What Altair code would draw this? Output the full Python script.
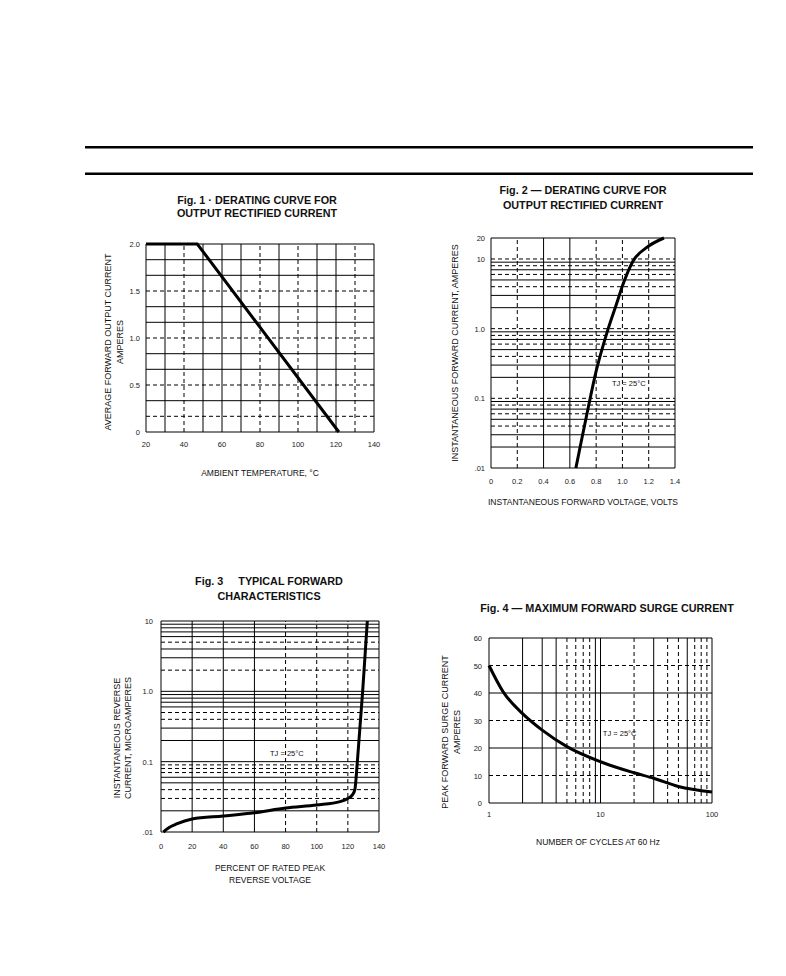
import altair as alt
import pandas as pd

FONT = "Liberation Sans"

# ---------------- Fig. 1 : derating curve ----------------
fig1_temp = [20, 47, 121.5]
fig1_amps = [2.0, 2.0, 0.0]
fig1_xticks = [20, 40, 60, 80, 100, 120, 140]
fig1_xlabels = ["20", "40", "60", "80", "100", "120", "140"]
fig1_yticks = [0, 0.5, 1.0, 1.5, 2.0]
fig1_ylabels = ["0", "0.5", "1.0", "1.5", "2.0"]
fig1_vsolid = [20, 30, 50, 60, 70, 90, 110, 120, 140]
fig1_vdash = [40, 80, 100, 130]
fig1_hsolid = [0, 0.333, 0.667, 0.833, 1.167, 1.333, 1.667, 1.833, 2.0]
fig1_hdash = [0.167, 0.5, 1.0, 1.5]

# ---------------- Fig. 2 : forward current vs voltage ----------------
fig2_volts = [0.646, 0.677, 0.74, 0.80, 0.88, 0.956, 1.0, 1.08, 1.18, 1.316]
fig2_amps = [0.01, 0.0195, 0.074, 0.245, 0.85, 2.3, 4.1, 9.3, 14.4, 20]
fig2_xticks = [0, 0.2, 0.4, 0.6, 0.8, 1.0, 1.2, 1.4]
fig2_xlabels = ["0", "0.2", "0.4", "0.6", "0.8", "1.0", "1.2", "1.4"]
fig2_yticks = [0.01, 0.1, 1, 10, 20]
fig2_ylabels = [".01", "0.1", "1.0", "10", "20"]
fig2_vsolid = [0, 0.4, 0.6, 1.4]
fig2_vdash = [0.2, 0.8, 1.0, 1.2]
fig2_hsolid = [0.01, 0.02, 0.03, 0.05, 0.07, 0.09, 0.2, 0.3, 0.5, 0.7, 0.9,
               2, 3, 5, 7, 9, 20]
fig2_hdash = [0.04, 0.06, 0.08, 0.1, 0.4, 0.6, 0.8, 1, 4, 6, 8, 10]

# ---------------- Fig. 3 : reverse current ----------------
fig3_pct = [1.5, 5, 10, 20, 40, 60, 80, 100, 115, 120, 123, 124.5, 126.1, 129.5, 132.5]
fig3_ua = [0.01, 0.0115, 0.013, 0.0153, 0.0169, 0.0188, 0.0219, 0.0242, 0.027,
           0.030, 0.034, 0.04, 0.1, 1.0, 10]
fig3_xticks = [0, 20, 40, 60, 80, 100, 120, 140]
fig3_xlabels = ["0", "20", "40", "60", "80", "100", "120", "140"]
fig3_yticks = [0.01, 0.1, 1, 10]
fig3_ylabels = [".01", "0.1", "1.0", "10"]
fig3_vsolid = [0, 20, 40, 60, 140]
fig3_vdash = [80, 100, 120]
fig3_hsolid = [0.01, 0.02, 0.05, 0.06, 0.1, 0.2, 0.3, 0.6, 0.7, 0.8, 0.9, 1,
               3, 4, 6, 7, 8, 9, 10]
fig3_hdash = [0.03, 0.04, 0.07, 0.08, 0.09, 0.4, 0.5, 2, 5]

# ---------------- Fig. 4 : surge current ----------------
fig4_cycles = [1, 1.34, 2, 3, 5, 10, 20, 30, 50, 100]
fig4_surge = [50, 40.4, 32.5, 26.5, 20.5, 15, 11, 9, 6, 4]
fig4_xticks = [1, 10, 100]
fig4_xlabels = ["1", "10", "100"]
fig4_yticks = [0, 10, 20, 30, 40, 50, 60]
fig4_ylabels = ["0", "10", "20", "30", "40", "50", "60"]
fig4_vsolid = [1, 2, 3, 4, 9, 10, 30, 60, 100]
fig4_vdash = [5, 6, 7, 8, 20, 40, 50, 70, 80, 90]
fig4_hsolid = [0, 20, 40, 60]
fig4_hdash = [10, 30, 50]

TJ_NOTE = "TJ = 25°C"


def panel(xs, ys, xtype, ytype, xdom, ydom, xrange, yrange,
          xticks, xlabels, xdy, yticks, ylabels, ydx,
          vsolid, vdash, hsolid, hdash, note_xy, interp):
    xsc = alt.Scale(type=xtype, domain=xdom, range=xrange, nice=False)
    ysc = alt.Scale(type=ytype, domain=ydom, range=yrange, nice=False)

    def vrules(vals, dash):
        df = pd.DataFrame({"gx": vals, "gy0": [ydom[0]] * len(vals), "gy1": [ydom[1]] * len(vals)})
        kw = dict(color="black", strokeWidth=1)
        if dash:
            kw["strokeDash"] = [4, 3]
        return alt.Chart(df).mark_rule(**kw).encode(
            x=alt.X("gx:Q", scale=xsc, axis=None),
            y=alt.Y("gy0:Q", scale=ysc, axis=None),
            y2="gy1:Q")

    def hrules(vals, dash):
        df = pd.DataFrame({"gy": vals, "gx0": [xdom[0]] * len(vals), "gx1": [xdom[1]] * len(vals)})
        kw = dict(color="black", strokeWidth=1)
        if dash:
            kw["strokeDash"] = [4, 3]
        return alt.Chart(df).mark_rule(**kw).encode(
            y=alt.Y("gy:Q", scale=ysc, axis=None),
            x=alt.X("gx0:Q", scale=xsc, axis=None),
            x2="gx1:Q")

    xlab_df = pd.DataFrame({"v": xticks, "t": xlabels, "b": [ydom[0]] * len(xticks)})
    xlab = alt.Chart(xlab_df).mark_text(
        font=FONT, fontSize=7.5, color="#1a1a1a", align="center", baseline="middle", dy=xdy
    ).encode(x=alt.X("v:Q", scale=xsc, axis=None),
             y=alt.Y("b:Q", scale=ysc, axis=None), text="t:N")

    ylab_df = pd.DataFrame({"v": yticks, "t": ylabels, "b": [xdom[0]] * len(yticks)})
    ylab = alt.Chart(ylab_df).mark_text(
        font=FONT, fontSize=7.5, color="#1a1a1a", align="right", baseline="middle", dx=ydx, dy=1
    ).encode(y=alt.Y("v:Q", scale=ysc, axis=None),
             x=alt.X("b:Q", scale=xsc, axis=None), text="t:N")

    curve_df = pd.DataFrame({"x": xs, "y": ys})
    curve = alt.Chart(curve_df).mark_line(color="black", strokeWidth=3,
                                          interpolate=interp).encode(
        x=alt.X("x:Q", scale=xsc, axis=None),
        y=alt.Y("y:Q", scale=ysc, axis=None))

    layers = [vrules(vsolid, False), vrules(vdash, True),
              hrules(hsolid, False), hrules(hdash, True), xlab, ylab]
    if note_xy is not None:
        note_df = pd.DataFrame({"x": [note_xy[0]], "y": [note_xy[1]], "t": [TJ_NOTE]})
        layers.append(alt.Chart(note_df).mark_text(
            font=FONT, fontSize=7.5, align="left", baseline="middle", color="#111111"
        ).encode(x=alt.X("x:Q", scale=xsc, axis=None),
                 y=alt.Y("y:Q", scale=ysc, axis=None),
                 text="t:N"))
    layers.append(curve)
    return alt.layer(*layers)


p1 = panel(fig1_temp, fig1_amps, "linear", "linear", [20, 140], [0, 2.0],
           [138, 366], [424, 236],
           fig1_xticks, fig1_xlabels, 13, fig1_yticks, fig1_ylabels, -6,
           fig1_vsolid, fig1_vdash, fig1_hsolid, fig1_hdash, None, "linear")

p2 = panel(fig2_volts, fig2_amps, "linear", "log", [0, 1.4], [0.01, 20],
           [483, 667], [460, 230],
           fig2_xticks, fig2_xlabels, 14, fig2_yticks, fig2_ylabels, -6,
           fig2_vsolid, fig2_vdash, fig2_hsolid, fig2_hdash, (0.92, 0.16), "monotone")

p3 = panel(fig3_pct, fig3_ua, "linear", "log", [0, 140], [0.01, 10],
           [153, 371], [824, 613],
           fig3_xticks, fig3_xlabels, 15, fig3_yticks, fig3_ylabels, -8,
           fig3_vsolid, fig3_vdash, fig3_hsolid, fig3_hdash, (70, 0.13), "monotone")

p4 = panel(fig4_cycles, fig4_surge, "log", "linear", [1, 100], [0, 60],
           [481, 704], [795, 630],
           fig4_xticks, fig4_xlabels, 12, fig4_yticks, fig4_ylabels, -7,
           fig4_vsolid, fig4_vdash, fig4_hsolid, fig4_hdash, (10.5, 25), "monotone")

one = pd.DataFrame({"k": [0]})


def text_block(lines, x, y, lh, size, bold=False, angle=0):
    kw = dict(text=lines, font=FONT, fontSize=size, color="#111111",
              align="center", baseline="middle", lineHeight=lh)
    if bold:
        kw["fontWeight"] = "bold"
    if angle:
        kw["angle"] = angle
    return alt.Chart(one).mark_text(**kw).encode(x=alt.value(x), y=alt.value(y))


# figure titles
t1 = text_block(["Fig. 1 · DERATING CURVE FOR", "OUTPUT RECTIFIED CURRENT"], 249, 193, 13, 10.8, True)
t2 = text_block(["Fig. 2 — DERATING CURVE FOR", "OUTPUT RECTIFIED CURRENT"], 575, 183, 15, 10.8, True)
t3 = text_block(["Fig. 3\u00a0\u00a0\u00a0\u00a0\u00a0TYPICAL FORWARD", "CHARACTERISTICS"], 261, 574, 15, 10.8, True)
t4 = text_block("Fig. 4 — MAXIMUM FORWARD SURGE CURRENT", 599, 601, 12, 10.8, True)

# axis titles
a1x = text_block("AMBIENT TEMPERATURE, °C", 252, 465, 12, 8.5)
a1y = text_block(["AVERAGE FORWARD OUTPUT CURRENT", "AMPERES"], 100, 334, 12, 9)
a2x = text_block("INSTANTANEOUS FORWARD VOLTAGE, VOLTS", 575, 494, 12, 8.5)
a2y = text_block("INSTANTANEOUS FORWARD CURRENT, AMPERES", 447, 345, 12, 9)
a3x = text_block(["PERCENT OF RATED PEAK", "REVERSE VOLTAGE"], 262, 860, 12, 8.5)
a3y = text_block(["INSTANTANEOUS REVERSE", "CURRENT, MICROAMPERES"], 109, 730, 11, 9)
a4x = text_block("NUMBER OF CYCLES AT 60 Hz", 590, 834, 12, 8.5)
a4y = text_block(["PEAK FORWARD SURGE CURRENT", "AMPERES"], 437, 724, 12, 9)
a1y = a1y.mark_text(text=["AVERAGE FORWARD OUTPUT CURRENT", "AMPERES"], font=FONT, fontSize=9,
                    color="#111111", align="center", baseline="middle", lineHeight=12, angle=270)
a2y = a2y.mark_text(text="INSTANTANEOUS FORWARD CURRENT, AMPERES", font=FONT, fontSize=9,
                    color="#111111", align="center", baseline="middle", lineHeight=12, angle=270)
a3y = a3y.mark_text(text=["INSTANTANEOUS REVERSE", "CURRENT, MICROAMPERES"], font=FONT, fontSize=9,
                    color="#111111", align="center", baseline="middle", lineHeight=11, angle=270)
a4y = a4y.mark_text(text=["PEAK FORWARD SURGE CURRENT", "AMPERES"], font=FONT, fontSize=9,
                    color="#111111", align="center", baseline="middle", lineHeight=12, angle=270)

rule_a = alt.Chart(one).mark_rule(color="black", strokeWidth=2.4).encode(
    x=alt.value(77), x2=alt.value(745), y=alt.value(139.2))
rule_b = alt.Chart(one).mark_rule(color="black", strokeWidth=2.4).encode(
    x=alt.value(77), x2=alt.value(745), y=alt.value(165.8))

chart = alt.layer(rule_a, rule_b, t1, t2, t3, t4,
                  a1x, a1y, a2x, a2y, a3x, a3y, a4x, a4y,
                  p1, p2, p3, p4).resolve_scale(
    x="independent", y="independent"
).properties(
    width=770, height=960, padding=0,
    autosize=alt.AutoSizeParams(type="none"),
    background="white"
).configure_view(strokeWidth=0)

chart.save("out.html", embed_options={"renderer": "svg", "actions": False})
